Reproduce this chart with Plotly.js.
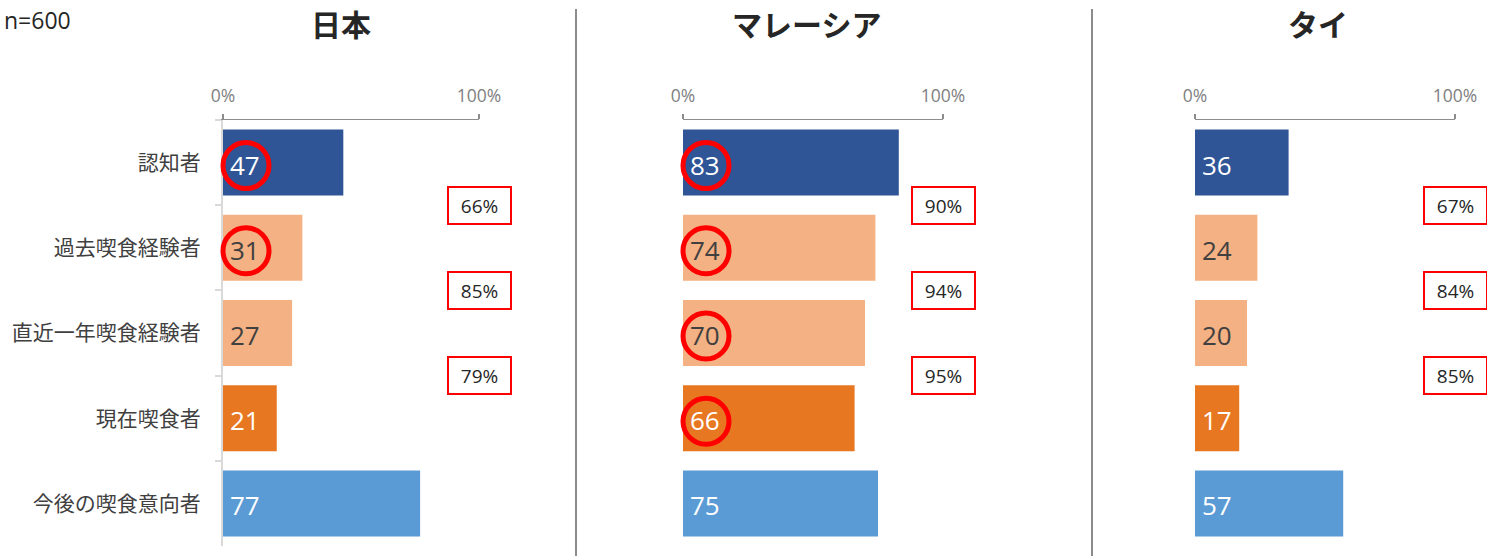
<!DOCTYPE html>
<html>
<head>
<meta charset="utf-8">
<script src="https://cdn.plot.ly/plotly-3.0.1.min.js"></script>
<style>
  html, body { margin: 0; padding: 0; background: #fff; }
  #chart { width: 1487px; height: 556px; }
</style>
</head>
<body>
<div id="chart"></div>
<script>
// ---- data ----
const categories = ['認知者', '過去喫食経験者', '直近一年喫食経験者', '現在喫食者', '今後の喫食意向者'];
const countries = ['日本', 'マレーシア', 'タイ'];
const japanValues = [47, 31, 27, 21, 77];
const malaysiaValues = [83, 74, 70, 66, 75];
const thailandValues = [36, 24, 20, 17, 57];
const japanRates = ['66%', '85%', '79%'];
const malaysiaRates = ['90%', '94%', '95%'];
const thailandRates = ['67%', '84%', '85%'];
const japanCircled = [true, true, false, false, false];
const malaysiaCircled = [true, true, true, true, false];
const thailandCircled = [false, false, false, false, false];
const sampleNote = 'n=600';
const axisTickVals = [0, 100];
const axisTickText = ['0%', '100%'];

// ---- styles ----
const barColors = ['#2F5597', '#F4B183', '#F4B183', '#E87722', '#5B9BD5'];
const labelColors = ['#FFFFFF', '#404040', '#404040', '#FFFFFF', '#FFFFFF'];
const FONT = '"Open Sans", "Noto Sans CJK JP", sans-serif';
const W = 1487, H = 556;

const panels = [
  { values: japanValues, rates: japanRates, circled: japanCircled, x0: 223, x1: 479, title: countries[0], titleX: 341, showCats: true },
  { values: malaysiaValues, rates: malaysiaRates, circled: malaysiaCircled, x0: 683, x1: 943, title: countries[1], titleX: 806, showCats: false },
  { values: thailandValues, rates: thailandRates, circled: thailandCircled, x0: 1195, x1: 1455, title: countries[2], titleX: 1318, showCats: false }
];

const yDomain = [1 - 546 / H, 1 - 120 / H];
const traces = [];
const annotations = [];
const shapes = [];
const layout = {
  width: W, height: H,
  margin: { l: 0, r: 0, t: 0, b: 0, pad: 0 },
  paper_bgcolor: '#fff', plot_bgcolor: 'rgba(0,0,0,0)',
  showlegend: false,
  bargap: 0.225,
  font: { family: FONT, color: '#404040' },
  annotations: annotations,
  shapes: shapes
};

panels.forEach((p, i) => {
  const sfx = i === 0 ? '' : String(i + 1);
  const xa = 'x' + sfx, ya = 'y' + sfx;
  traces.push({
    type: 'bar', orientation: 'h',
    x: p.values, y: categories,
    xaxis: xa, yaxis: ya,
    marker: { color: barColors, line: { width: 0 } },
    hoverinfo: 'skip'
  });
  layout['xaxis' + sfx] = {
    domain: [p.x0 / W, p.x1 / W],
    anchor: ya, side: 'top',
    range: [0, 100], fixedrange: true,
    tickvals: axisTickVals, ticktext: axisTickText,
    ticks: 'outside', ticklen: 5, tickwidth: 1.5, tickcolor: '#8c8c8c',
    showline: true, linecolor: '#8c8c8c', linewidth: 1.5,
    showgrid: false, zeroline: false,
    tickfont: { size: 17.5, color: '#7f7f7f', family: FONT },
    ticklabelstandoff: 5
  };
  layout['yaxis' + sfx] = {
    domain: yDomain, anchor: xa,
    type: 'category', autorange: 'reversed', fixedrange: true,
    showgrid: false, zeroline: false,
    showline: p.showCats, linecolor: '#d9d9d9', linewidth: 2,
    ticks: p.showCats ? 'outside' : '', tickson: 'boundaries',
    ticklen: 6, tickwidth: 2, tickcolor: '#d9d9d9',
    showticklabels: p.showCats,
    tickfont: { size: 21, color: '#404040', family: FONT },
    ticklabelstandoff: 16
  };
  // title
  annotations.push({
    xref: 'paper', yref: 'paper', x: p.titleX / W, y: 1 - 25 / H,
    xanchor: 'center', yanchor: 'middle', showarrow: false,
    text: '<b>' + p.title + '</b>',
    font: { size: 30, color: '#262626', family: FONT }
  });
  // value labels
  p.values.forEach((v, k) => {
    annotations.push({
      xref: xa, yref: ya, x: 0, y: k, xanchor: 'left', yanchor: 'middle',
      xshift: 5, yshift: -2, showarrow: false,
      text: String(v),
      font: { size: 26, color: labelColors[k], family: FONT }
    });
    if (p.circled[k]) {
      shapes.push({
        type: 'circle', xref: 'paper', yref: ya,
        xsizemode: 'pixel', xanchor: p.x0 / W, x0: 0, x1: 46,
        ysizemode: 'pixel', yanchor: k, y0: -26, y1: 20,
        line: { color: '#FF0000', width: 5 }
      });
    }
  });
  // conversion rate boxes
  p.rates.forEach((r, k) => {
    annotations.push({
      xref: xa, yref: ya, x: 100, y: k + 0.5,
      xanchor: 'center', yanchor: 'middle', showarrow: false,
      text: r, width: 59, height: 33, borderpad: 1, borderwidth: 2,
      bordercolor: '#FF0000', bgcolor: '#FFFFFF',
      font: { size: 19, color: '#262626', family: FONT }
    });
  });
});

// separators
[576, 1092].forEach(px => {
  shapes.push({
    type: 'line', xref: 'paper', yref: 'paper',
    x0: px / W, x1: px / W, y0: 0, y1: 1 - 9 / H,
    line: { color: '#8c8c8c', width: 2 }
  });
});

// sample note
annotations.push({
  xref: 'paper', yref: 'paper', x: 2 / W, y: 1 - 20 / H,
  xanchor: 'left', yanchor: 'middle', showarrow: false,
  text: sampleNote, font: { size: 23, color: '#262626', family: FONT }
});

Plotly.newPlot('chart', traces, layout, { displayModeBar: false, staticPlot: true });
</script>
</body>
</html>
